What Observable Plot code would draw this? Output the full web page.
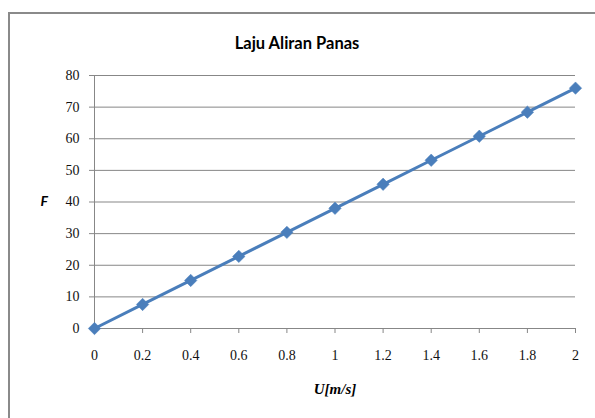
<!DOCTYPE html>
<html><head><meta charset="utf-8">
<script src="https://cdn.jsdelivr.net/npm/d3@7"></script>
<script src="https://cdn.jsdelivr.net/npm/@observablehq/plot@0.6"></script>
<style>
body{margin:0;background:#fff;}
#wrap{position:relative;width:595px;height:418px;overflow:hidden;background:#fff;}
#border{position:absolute;left:8px;top:12px;width:620px;height:440px;border:2px solid #8a8a8a;box-sizing:border-box;pointer-events:none;}
svg{position:absolute;left:0;top:0;}
g[aria-label$="tick label"], g[aria-label$="tick label"] text{font-family:'Liberation Serif','Times New Roman',serif !important;font-size:14px !important;}
</style></head>
<body><div id="wrap"><div id="border"></div></div>
<script>
const title = "Laju Aliran Panas";
const xLabel = "U[m/s]";
const yLabel = "F";
const U = [0, 0.2, 0.4, 0.6, 0.8, 1, 1.2, 1.4, 1.6, 1.8, 2];
const F = [0, 7.6, 15.2, 22.8, 30.4, 38, 45.6, 53.2, 60.8, 68.4, 76];
const xTicks = [0, 0.2, 0.4, 0.6, 0.8, 1, 1.2, 1.4, 1.6, 1.8, 2];
const yTicks = [0, 10, 20, 30, 40, 50, 60, 70, 80];

const data = U.map((u, i) => ({u, f: F[i]}));
const grey = "#878787";
const blue = "#4a7ebb";

const chart = Plot.plot({
  width: 595, height: 418,
  marginLeft: 94, marginRight: 20, marginTop: 75, marginBottom: 90,
  style: {fontSize: "14px", color: "#111", background: "transparent"},
  x: {domain: [0, 2]},
  y: {domain: [0, 80]},
  marks: [
    Plot.gridY(yTicks, {stroke: grey, strokeOpacity: 1}),
    Plot.ruleX([0], {stroke: grey}),
    Plot.axisY(yTicks, {tickSize: 5, tickPadding: 10, stroke: grey, label: null, fill: "#111"}),
    Plot.axisX(xTicks, {tickSize: 5, tickPadding: 17, stroke: grey, label: null, fill: "#111", tickFormat: d => String(d)}),
    Plot.line(data, {x: "u", y: "f", stroke: blue, strokeWidth: 3}),
    Plot.dot(data, {x: "u", y: "f", symbol: "diamond2", r: 5.6, fill: blue, stroke: blue, strokeWidth: 0.5}),
    Plot.text([title], {frameAnchor: "top", dx: -38, dy: -32, lineAnchor: "middle", fontFamily: "Lato", fontWeight: "bold", fontSize: 16.5, fill: "#000"}),
    Plot.text([yLabel], {frameAnchor: "left", dx: -54, lineAnchor: "middle", fontFamily: "Lato", fontWeight: "bold", fontStyle: "italic", fontSize: 14, fill: "#000"}),
    Plot.text([xLabel], {frameAnchor: "bottom", dy: 61, lineAnchor: "middle", fill: "#000"})
  ]
});
d3.select(chart).selectAll("text").filter(function() { return this.textContent === xLabel; })
  .style("font-family", "'Liberation Serif','Times New Roman',serif")
  .style("font-size", "15px").style("font-style", "italic").style("font-weight", "bold");
document.getElementById("wrap").appendChild(chart);
</script>
</body></html>
